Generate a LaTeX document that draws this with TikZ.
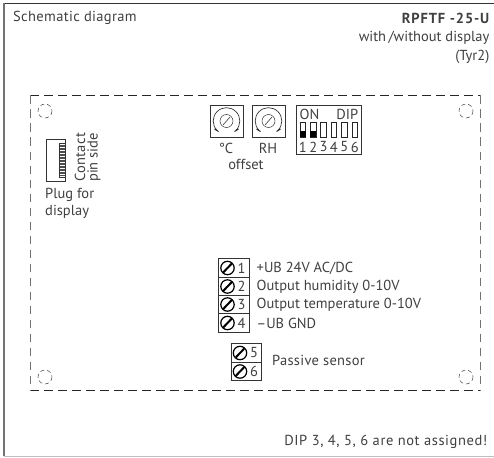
\documentclass[tikz,border=0pt]{standalone}
\usepackage{fontspec}
\setmainfont{PT Sans}
\begin{document}
\begin{tikzpicture}[x=1pt,y=-1pt,
  txt/.style={inner sep=0pt,text=black!75,font=\fontsize{14.5}{16}\selectfont},
  lab/.style={txt,anchor=west},
  rlab/.style={txt,anchor=east},
  hole/.style={draw=black!75,line width=.5pt,dash pattern=on 4pt off 3pt},
  boxline/.style={draw=black!80,line width=.7pt},
  screw/.style={draw=black,line width=1.2pt,fill=white}]
\useasboundingbox (0,0) rectangle (494,457);
% frame
\draw[black!80,line width=.8pt] (3.5,3.5) -- (494,3.5);
\draw[black!55,line width=1.6pt] (4,3.5) -- (4,456);
\draw[black!25,line width=.8pt] (4,456) -- (494,456);
% titles
\node[lab] (title) at (13,18) {\addfontfeature{LetterSpace=2.4}Schematic diagram};
\node[rlab,font=\fontsize{14.5}{16}\selectfont\bfseries] (model) at (489.5,18) {\addfontfeature{LetterSpace=6}RPFTF -25-U};
\node[rlab] (sub) at (489.5,38) {with\,/without display};
\node[rlab] (tyr) at (489.5,57) {(Tyr2)};
% board outline
\draw[black!85,line width=.8pt,dash pattern=on 8.5pt off 5.5pt] (30,95.5) -- (480.5,95.5);
\draw[black!85,line width=.8pt,dash pattern=on 8.5pt off 5.5pt] (30,390.5) -- (480.5,390.5);
\draw[black!55,line width=.8pt,dash pattern=on 8.5pt off 5.5pt] (30,95.5) -- (30,390.5);
\draw[black!55,line width=.8pt,dash pattern=on 8.5pt off 5.5pt] (480.5,95.5) -- (480.5,390.5);
\foreach \x/\y in {45/111,466/111,45/377,466/377}
  \draw[hole] (\x,\y) circle (7);
% display plug
\draw[boxline] (46.5,139.5) rectangle (65,181.5);
\draw[boxline,line width=.5pt] (59,143.5) rectangle (65,177.5);
\foreach \y in {145,146.5,...,176}
  \draw[black!70,line width=.3pt] (60,\y) -- (65,\y);
\node[txt,rotate=90,anchor=west] (contact) at (80,182) {\addfontfeature{LetterSpace=2}Contact};
\node[txt,rotate=90,anchor=west] (pinside) at (94,182) {pin side};
\node[lab] (plug) at (45,195) {Plug for};
\node[lab] (display) at (45,212) {display};
% potentiometers
\foreach \cx in {226.5,268.5}{
  \draw[boxline] (\cx-16.5,105) rectangle (\cx+16.5,137.5);
  \draw[black!80,line width=.7pt] (\cx-9.4,130.4) arc (135:405:13.3);
  \draw[black!80,line width=.5pt] (\cx,121) circle (6.5);
  \draw[black!80,line width=.6pt] (\cx-3.5,125) -- (\cx+3.5,117);
  \draw[black!85,line width=1pt] (\cx-12,129) -- (\cx-8,131.5);
  \draw[black!85,line width=1pt] (\cx+12,129) -- (\cx+8,131.5);
}
\node[txt] (degc) at (226,148) {°C};
\node[txt] (rh) at (268,148) {RH};
\node[txt] (offset) at (246,164) {offset};
% DIP switch
\draw[boxline] (296.5,105) rectangle (361.5,154);
\node[lab] (on) at (299.5,114) {ON};
\node[rlab] (dip) at (358.5,114) {DIP};
\foreach \i/\x in {1/300,2/310.4,3/320.7,4/331.1,5/341.5,6/351.9}{
  \draw[black!85,line width=.6pt] (\x,122.5) rectangle (\x+5.6,137);
  \node[txt] (d\i) at (\x+2.8,147) {\i};
}
\fill[black] (300,131.5) rectangle (305.6,137);
\fill[black] (310.4,131.5) rectangle (316,137);
% terminals 1-4
\draw[boxline] (218.5,258.5) rectangle (249.5,332.5);
\foreach \y in {277.5,295.5,313.5} \draw[boxline] (218.5,\y) -- (249.5,\y);
\foreach \i/\y/\t in {1/268/{+UB 24V AC/DC},2/286.5/{Output humidity 0-10V},3/304.5/{Output temperature 0-10V},4/323/{–UB GND}}{
  \draw[screw] (227.5,\y) circle (6.7);
  \draw[black,line width=2pt] (223.2,\y+4.5) -- (231.8,\y-4.5);
  \node[txt] (n\i) at (241.5,\y) {\i};
  \node[lab] (l\i) at (256.5,\y) {\t};
}
% terminals 5-6
\draw[boxline] (231.5,343.5) rectangle (261.5,380.5);
\draw[boxline] (231.5,362) -- (261.5,362);
\foreach \i/\y in {5/353,6/371.5}{
  \draw[screw] (240,\y) circle (6.7);
  \draw[black,line width=2pt] (235.7,\y+4.5) -- (244.3,\y-4.5);
  \node[txt] (n\i) at (254,\y) {\i};
}
\node[lab] (passive) at (272,360) {\addfontfeature{LetterSpace=2}Passive sensor};
\node[rlab] (note) at (487.5,442) {\addfontfeature{LetterSpace=4}DIP 3, 4, 5, 6 are not assigned!};
\end{tikzpicture}
\end{document}
